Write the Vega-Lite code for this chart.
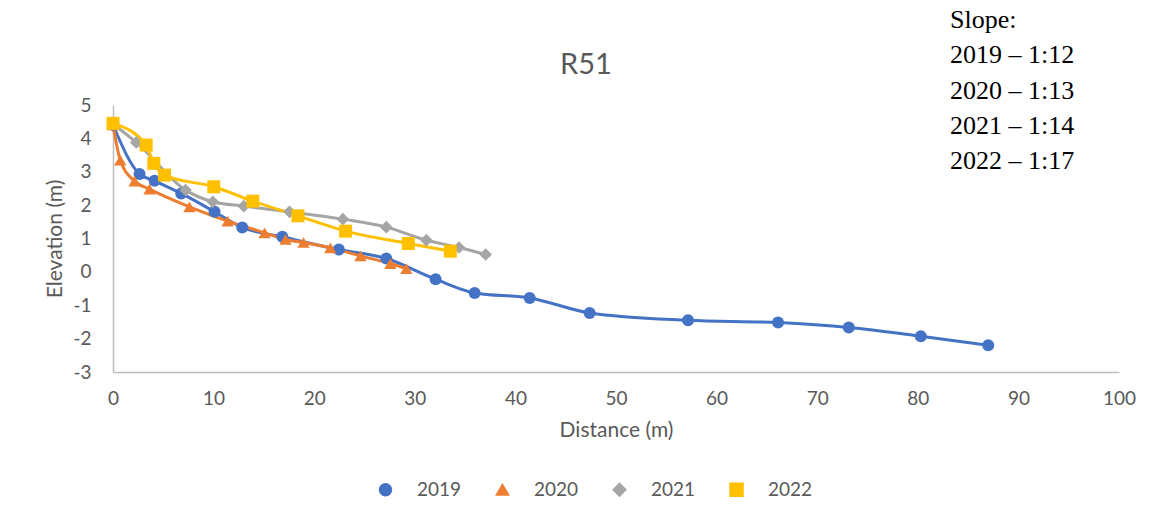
{
  "$schema": "https://vega.github.io/schema/vega-lite/v6.json",
  "width": 1006,
  "height": 267,
  "autosize": {"type": "none"},
  "padding": {"left": 113, "top": 105, "right": 36, "bottom": 139},
  "background": "white",
  "title": {
    "text": "R51",
    "font": "Lato",
    "fontSize": 29,
    "fontWeight": "normal",
    "color": "#595959",
    "anchor": "middle",
    "dx": -30,
    "offset": 0,
    "dy": 73
  },
  "data": {
    "values": [
      {"year": "2019", "slope": "2019 – 1:12", "d": 0, "e": 4.4},
      {"year": "2019", "slope": "2019 – 1:12", "d": 2.64, "e": 2.93},
      {"year": "2019", "slope": "2019 – 1:12", "d": 4.13, "e": 2.73},
      {"year": "2019", "slope": "2019 – 1:12", "d": 6.78, "e": 2.35},
      {"year": "2019", "slope": "2019 – 1:12", "d": 10.09, "e": 1.8},
      {"year": "2019", "slope": "2019 – 1:12", "d": 12.85, "e": 1.33},
      {"year": "2019", "slope": "2019 – 1:12", "d": 16.83, "e": 1.05},
      {"year": "2019", "slope": "2019 – 1:12", "d": 22.45, "e": 0.67},
      {"year": "2019", "slope": "2019 – 1:12", "d": 27.17, "e": 0.4},
      {"year": "2019", "slope": "2019 – 1:12", "d": 32.07, "e": -0.22},
      {"year": "2019", "slope": "2019 – 1:12", "d": 35.95, "e": -0.63},
      {"year": "2019", "slope": "2019 – 1:12", "d": 41.42, "e": -0.78},
      {"year": "2019", "slope": "2019 – 1:12", "d": 47.38, "e": -1.23},
      {"year": "2019", "slope": "2019 – 1:12", "d": 57.16, "e": -1.45},
      {"year": "2019", "slope": "2019 – 1:12", "d": 66.11, "e": -1.52},
      {"year": "2019", "slope": "2019 – 1:12", "d": 73.14, "e": -1.67},
      {"year": "2019", "slope": "2019 – 1:12", "d": 80.3, "e": -1.93},
      {"year": "2019", "slope": "2019 – 1:12", "d": 87.0, "e": -2.2},
      {"year": "2020", "slope": "2020 – 1:13", "d": 0, "e": 4.4},
      {"year": "2020", "slope": "2020 – 1:13", "d": 0.72, "e": 3.35},
      {"year": "2020", "slope": "2020 – 1:13", "d": 2.14, "e": 2.72},
      {"year": "2020", "slope": "2020 – 1:13", "d": 3.63, "e": 2.48},
      {"year": "2020", "slope": "2020 – 1:13", "d": 7.6, "e": 1.95},
      {"year": "2020", "slope": "2020 – 1:13", "d": 11.4, "e": 1.52},
      {"year": "2020", "slope": "2020 – 1:13", "d": 15.07, "e": 1.17},
      {"year": "2020", "slope": "2020 – 1:13", "d": 17.15, "e": 0.97},
      {"year": "2020", "slope": "2020 – 1:13", "d": 18.94, "e": 0.88},
      {"year": "2020", "slope": "2020 – 1:13", "d": 21.6, "e": 0.72},
      {"year": "2020", "slope": "2020 – 1:13", "d": 24.6, "e": 0.48},
      {"year": "2020", "slope": "2020 – 1:13", "d": 27.57, "e": 0.25},
      {"year": "2020", "slope": "2020 – 1:13", "d": 29.16, "e": 0.1},
      {"year": "2021", "slope": "2021 – 1:14", "d": 0, "e": 4.43},
      {"year": "2021", "slope": "2021 – 1:14", "d": 2.31, "e": 3.88},
      {"year": "2021", "slope": "2021 – 1:14", "d": 7.21, "e": 2.45},
      {"year": "2021", "slope": "2021 – 1:14", "d": 9.92, "e": 2.1},
      {"year": "2021", "slope": "2021 – 1:14", "d": 13.0, "e": 1.97},
      {"year": "2021", "slope": "2021 – 1:14", "d": 17.55, "e": 1.8},
      {"year": "2021", "slope": "2021 – 1:14", "d": 22.85, "e": 1.58},
      {"year": "2021", "slope": "2021 – 1:14", "d": 27.17, "e": 1.34},
      {"year": "2021", "slope": "2021 – 1:14", "d": 31.15, "e": 0.95},
      {"year": "2021", "slope": "2021 – 1:14", "d": 34.39, "e": 0.73},
      {"year": "2021", "slope": "2021 – 1:14", "d": 37.04, "e": 0.52},
      {"year": "2022", "slope": "2022 – 1:17", "d": 0, "e": 4.45},
      {"year": "2022", "slope": "2022 – 1:17", "d": 3.3, "e": 3.8},
      {"year": "2022", "slope": "2022 – 1:17", "d": 4.06, "e": 3.25},
      {"year": "2022", "slope": "2022 – 1:17", "d": 5.12, "e": 2.9},
      {"year": "2022", "slope": "2022 – 1:17", "d": 10.02, "e": 2.55},
      {"year": "2022", "slope": "2022 – 1:17", "d": 13.9, "e": 2.12},
      {"year": "2022", "slope": "2022 – 1:17", "d": 18.38, "e": 1.68},
      {"year": "2022", "slope": "2022 – 1:17", "d": 23.12, "e": 1.22},
      {"year": "2022", "slope": "2022 – 1:17", "d": 29.36, "e": 0.85},
      {"year": "2022", "slope": "2022 – 1:17", "d": 33.53, "e": 0.62}
    ]
  },
  "encoding": {
    "x": {
      "field": "d",
      "type": "quantitative",
      "scale": {"domain": [0, 100], "nice": false, "zero": false},
      "axis": {
        "values": [0, 10, 20, 30, 40, 50, 60, 70, 80, 90, 100],
        "title": "Distance (m)",
        "labelPadding": 17,
        "titlePadding": 11
      }
    },
    "y": {
      "field": "e",
      "type": "quantitative",
      "scale": {"domain": [-3, 5], "nice": false, "zero": false},
      "axis": {
        "values": [-3, -2, -1, 0, 1, 2, 3, 4, 5],
        "title": "Elevation (m)",
        "labelPadding": 22,
        "titlePadding": 7,
        "labelExpr": "replace(datum.label, '\u2212', '-')"
      }
    },
    "color": {
      "field": "year",
      "type": "nominal",
      "scale": {
        "domain": ["2019", "2020", "2021", "2022"],
        "range": ["#4472C4", "#ED7D31", "#A5A5A5", "#FFC000"]
      },
      "legend": {
        "title": null,
        "orient": "none",
        "direction": "horizontal",
        "legendX": 263,
        "legendY": 375,
        "labelFont": "Lato",
        "labelFontSize": 19,
        "labelColor": "#595959",
        "labelOffset": 22,
        "columnPadding": 31,
        "symbolSize": 130
      }
    }
  },
  "layer": [
    {
      "mark": {"type": "line", "strokeWidth": 3, "interpolate": "monotone"},
      "encoding": {
        "opacity": {
          "field": "slope",
          "type": "nominal",
          "scale": {
            "domain": ["Slope:", "2019 – 1:12", "2020 – 1:13", "2021 – 1:14", "2022 – 1:17"],
            "range": [1, 1]
          },
          "legend": {
            "title": null,
            "orient": "none",
            "legendX": 811,
            "legendY": -98,
            "labelFont": "Liberation Serif",
            "labelFontSize": 26,
            "labelColor": "black",
            "labelOffset": 0,
            "rowPadding": 9.3,
            "symbolType": "circle",
            "symbolSize": 0.01,
            "symbolOpacity": 0,
            "symbolStrokeWidth": 0
          }
        }
      }
    },
    {
      "mark": {"type": "point", "filled": true, "opacity": 1, "strokeWidth": 0},
      "encoding": {
        "shape": {
          "field": "year",
          "type": "nominal",
          "scale": {
            "domain": ["2019", "2020", "2021", "2022"],
            "range": ["circle", "triangle-up", "diamond", "square"]
          },
          "legend": null
        },
        "size": {
          "field": "year",
          "type": "nominal",
          "scale": {
            "domain": ["2019", "2020", "2021", "2022"],
            "range": [144, 169, 110, 169]
          },
          "legend": null
        }
      }
    }
  ],
  "config": {
    "view": {"stroke": null},
    "axis": {
      "grid": false,
      "ticks": false,
      "labelFlush": false,
      "domainColor": "#BFBFBF",
      "domainWidth": 1.5,
      "labelFont": "Lato",
      "labelFontSize": 19,
      "labelColor": "#595959",
      "titleFont": "Lato",
      "titleFontSize": 21,
      "titleFontWeight": "normal",
      "titleColor": "#595959"
    }
  }
}
